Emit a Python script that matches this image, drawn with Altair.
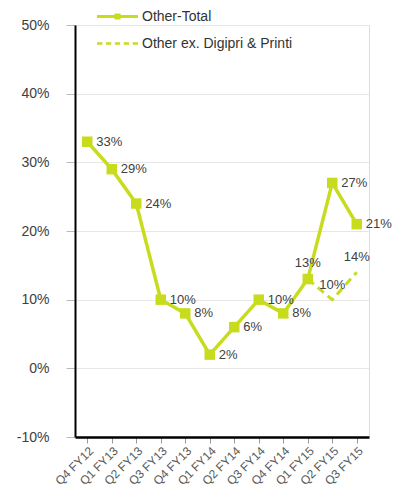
import altair as alt
import pandas as pd

quarters = ["Q4 FY12", "Q1 FY13", "Q2 FY13", "Q3 FY13", "Q4 FY13", "Q1 FY14",
            "Q2 FY14", "Q3 FY14", "Q4 FY14", "Q1 FY15", "Q2 FY15", "Q3 FY15"]
total_values = [33, 29, 24, 10, 8, 2, 6, 10, 8, 13, 27, 21]
ex_quarters = ["Q1 FY15", "Q2 FY15", "Q3 FY15"]
ex_values = [13, 10, 14]
series_names = ["Other-Total", "Other ex. Digipri & Printi"]
label_above = ["Q1 FY15"]

GREEN = "#c8dc1e"
TEXT = "#404040"

total_df = pd.DataFrame({"quarter": quarters, "value": total_values, "series": series_names[0]})
ex_df = pd.DataFrame({"quarter": ex_quarters, "value": ex_values, "series": series_names[1]})
ex_lbl_df = ex_df[ex_df["quarter"] != "Q1 FY15"]
legend_df = pd.DataFrame({"series": series_names})

x = alt.X("quarter:N", sort=quarters, title=None,
          scale=alt.Scale(type="point", padding=0.5),
          axis=alt.Axis(labelAngle=-45, labelFontSize=12, labelColor="#5a5a5a",
                        labelFont="Liberation Sans", domainColor="#000000", domainWidth=2.5,
                        tickColor="#999999", tickSize=6, labelPadding=2, grid=False))
y = alt.Y("value:Q", title=None,
          scale=alt.Scale(domain=[-10, 50], nice=False, zero=False),
          axis=alt.Axis(values=[-10, 0, 10, 20, 30, 40, 50], labelExpr="datum.value + '%'",
                        labelFontSize=14, labelColor=TEXT, labelFont="Liberation Sans",
                        domainColor="#000000", domainWidth=2, tickColor="#bbbbbb",
                        tickSize=9, labelPadding=17, grid=True, gridColor="#e6e6e6"))

line_total = alt.Chart(total_df).mark_line(color=GREEN, strokeWidth=3.5).encode(x=x, y=y)
pts_total = alt.Chart(total_df).mark_square(color=GREEN, size=110, opacity=1).encode(x=x, y=y)
line_ex = alt.Chart(ex_df).mark_line(color=GREEN, strokeWidth=3, strokeDash=[8, 5]).encode(x=x, y=y)

lbl_total_right = alt.Chart(total_df).transform_filter(
    {"not": alt.FieldOneOfPredicate(field="quarter", oneOf=label_above)}
).mark_text(align="left", dx=9, fontSize=13, color=TEXT, font="Liberation Sans").encode(
    x=x, y=y, text=alt.Text("label:N")).transform_calculate(label="datum.value + '%'")
lbl_total_above = alt.Chart(total_df).transform_filter(
    alt.FieldOneOfPredicate(field="quarter", oneOf=label_above)
).mark_text(align="center", dy=-16, fontSize=13, color=TEXT, font="Liberation Sans").encode(
    x=x, y=y, text=alt.Text("label:N")).transform_calculate(label="datum.value + '%'")
lbl_ex = alt.Chart(ex_lbl_df).mark_text(align="center", dy=-15, fontSize=13, color=TEXT,
                                       font="Liberation Sans").encode(
    x=x, y=y, text=alt.Text("label:N")).transform_calculate(label="datum.value + '%'")

path_total = "M-1,-0.07H1V0.07H-1Z M-0.15,-0.15H0.15V0.15H-0.15Z"
path_ex = ("M-1,-0.06H-0.74V0.06H-1Z M-0.565,-0.06H-0.305V0.06H-0.565Z "
           "M-0.13,-0.06H0.13V0.06H-0.13Z M0.305,-0.06H0.565V0.06H0.305Z M0.74,-0.06H1V0.06H0.74Z")

leg = alt.Legend(title=None, orient="none", legendX=22, legendY=-22, symbolSize=1681,
                 symbolOpacity=1, symbolStrokeWidth=0, labelFontSize=14, labelColor="#333333",
                 labelFont="Liberation Sans", labelOffset=4, clipHeight=27, rowPadding=0,
                 symbolFillColor=GREEN)
legend_layer = alt.Chart(legend_df).mark_point(filled=True, opacity=0).encode(
    color=alt.Color("series:N", sort=series_names,
                    scale=alt.Scale(domain=series_names, range=[GREEN, GREEN]), legend=leg),
    shape=alt.Shape("series:N", sort=series_names,
                    scale=alt.Scale(domain=series_names, range=[path_total, path_ex]), legend=leg),
)

chart = alt.layer(line_total, line_ex, pts_total, lbl_total_right, lbl_total_above, lbl_ex,
                  legend_layer).properties(
    width=294, height=412,
    autosize=alt.AutoSizeParams(type="none"),
    padding={"left": 67, "top": 17, "right": 24, "bottom": 52},
).configure_view(stroke=None).configure(background="white")

chart.save("out.html", embed_options={"renderer": "svg", "actions": False})
